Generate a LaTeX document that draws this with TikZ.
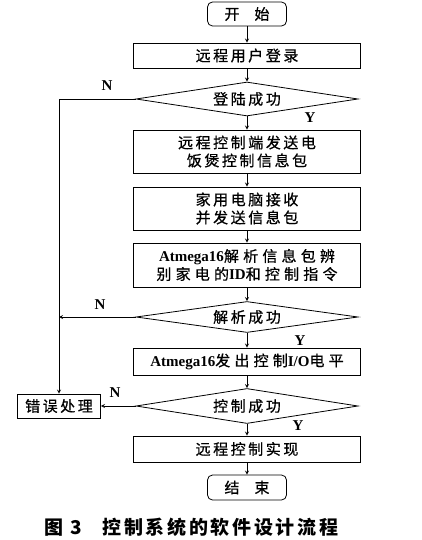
\documentclass[tikz,border=0pt]{standalone}
\usepackage{fontspec}
\setmainfont{Liberation Serif}
\newfontfamily\cjk[LetterSpace=17, FakeBold=0.7]{Noto Sans CJK SC}
\newfontfamily\cjkw[LetterSpace=28, FakeBold=0.7]{Noto Sans CJK SC}
\newfontfamily\cjkcap[LetterSpace=14]{Noto Sans CJK SC}
\usetikzlibrary{shapes.geometric,positioning}
\newcommand\lat[1]{{\rmfamily\bfseries #1}}
\tikzset{
	procbox/.style={
		draw, rectangle, line width=0.8pt, minimum width=227pt, inner sep=0pt,
		align=center, font={\cjk\fontsize{15}{18}\selectfont}
	},
	termbox/.style={
		draw, rectangle, rounded corners=5pt, line width=0.8pt, minimum width=79pt,
		minimum height=24pt, inner sep=0pt, font={\cjk\fontsize{15}{18}\selectfont}
	},
	decbox/.style={
		draw, diamond, aspect=6.5, line width=0.8pt, minimum width=222pt,
		minimum height=34pt, inner sep=0pt, font={\cjk\fontsize{15}{18}\selectfont}
	},
	flag/.style={inner sep=0pt, font={\bfseries\fontsize{15}{15}\selectfont}},
	>=stealth,
}

\begin{document}
\begin{tikzpicture}[x=1pt, y=-1pt, line width=0.8pt]
\useasboundingbox (0,0) rectangle (421,540);
% main column
\node[termbox] (start) at (247,14) {开\quad 始};
\node[procbox, minimum height=25pt] (login) at (247,55.5) {远程用户登录};
\node[decbox] (ok1) at (247,99) {登陆成功};
\node[procbox, minimum height=43pt] (send) at (247,151.5) {远程控制端发送电\\饭煲控制信息包};
\node[procbox, minimum height=43pt] (recv) at (247,208.5) {家用电脑接收\\并发送信息包};
\node[procbox, minimum height=44pt, font={\cjkw\fontsize{15}{18}\selectfont}] (parse) at (247,265)
	{\lat{Atmega16}解析信息包辨\\别家电的\lat{ID}和控制指令};
\node[decbox, minimum height=31pt] (ok2) at (247,317) {解析成功};
\node[procbox, minimum height=27pt, font={\cjkw\fontsize{15}{18}\selectfont}] (io) at (247,361.5)
	{\lat{Atmega16}发出控制\lat{I/O}电平};
\node[decbox, minimum height=35pt] (ok3) at (247,406) {控制成功};
\node[procbox, minimum height=26pt] (done) at (247,449) {远程控制实现};
\node[termbox, minimum height=25pt] (stop) at (247,487.5) {结\quad 束};
% error branch
\node[procbox, minimum width=83pt, minimum height=24pt] (err) at (59,406) {错误处理};
\node[flag] (n1) at (107,86) {N};
\node[flag] (n2) at (100,305) {N};
\node[flag] (n3) at (115,393) {N};
\node[flag] (y1) at (310,118) {Y};
\node[flag] (y2) at (300,341) {Y};
\node[flag] (y3) at (298,426) {Y};

\draw[->] (start) -- (login);
\draw[->] (login) -- (ok1);
\draw[->] (ok1) -- (send);
\draw[->] (send) -- (recv);
\draw[->] (recv) -- (parse);
\draw[->] (parse) -- (ok2);
\draw[->] (ok2) -- (io);
\draw[->] (io) -- (ok3);
\draw[->] (ok3) -- (done);
\draw[->] (done) -- (stop);
\draw[->] (ok1.west) -| (err.north);
\draw[->] (ok2.west) -- (ok2.west -| err.north);
\draw[->] (ok3.west) -- (err.east);

\node[anchor=west, inner sep=0pt, font={\cjkcap\bfseries\fontsize{19}{19}\selectfont}] (cap) at (44,527)
	{图\hspace{0.35em}3\hspace{1.1em}控制系统的软件设计流程};
\end{tikzpicture}
\end{document}
